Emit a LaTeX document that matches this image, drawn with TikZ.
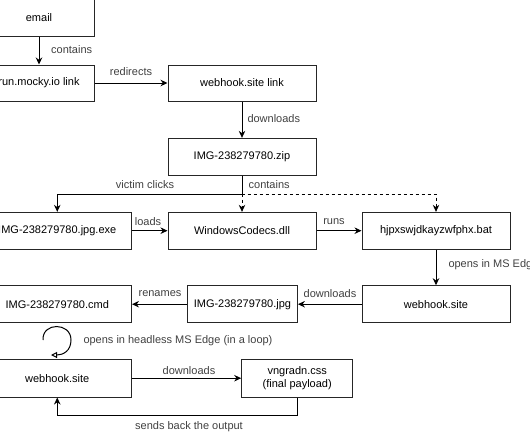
\documentclass[tikz,border=0pt]{standalone}
\usepackage{fontspec}
\setmainfont{Liberation Sans}
\usetikzlibrary{arrows.meta}
\begin{document}
\begin{tikzpicture}[x=1pt,y=-1pt,
  box/.style={draw=black!85,line width=1pt,fill=white,inner sep=0pt,align=center,font=\fontsize{11}{13}\selectfont},
  lbl/.style={inner sep=0pt,text=black!75,font=\fontsize{11}{13}\selectfont},
  conn/.style={draw=black,line width=1pt,-{Stealth[length=7pt,width=6.5pt]}},
  dconn/.style={conn,dash pattern=on 3pt off 3pt}]
\useasboundingbox (0,0) rectangle (530,442);
% boxes
\node[box,minimum width=110,minimum height=37] (email) at (39,17.5) {email};
\node[box,minimum width=110,minimum height=36] (mocky) at (39,83) {run.mocky.io link};
\node[box,minimum width=148,minimum height=36] (whl) at (242,83) {webhook.site link};
\node[box,minimum width=148,minimum height=36.7] (zip) at (242,156.7) {IMG-238279780.zip};
\node[box,minimum width=148.5,minimum height=36.7] (exe) at (57.25,230.7) {IMG-238279780.jpg.exe};
\node[box,minimum width=148,minimum height=36.7] (dll) at (242,230.7) {WindowsCodecs.dll};
\node[box,minimum width=148,minimum height=36.7] (bat) at (436,230.7) {hjpxswjdkayzwfphx.bat};
\node[box,minimum width=148.5,minimum height=37] (cmd) at (57.25,304.2) {IMG-238279780.cmd};
\node[box,minimum width=110,minimum height=37] (jpg) at (242.4,304.2) {IMG-238279780.jpg};
\node[box,minimum width=148,minimum height=37] (ws2) at (436,304.2) {webhook.site};
\node[box,minimum width=148.5,minimum height=37.7] (ws3) at (57.25,378.2) {webhook.site};
\node[box,minimum width=111,minimum height=37.7,align=center] (css) at (297.2,378.2) {vngradn.css\\(final payload)};
% connectors
\draw[conn] (email) -- (mocky);
\draw[conn] (mocky) -- (whl);
\draw[conn] (whl) -- (zip);
\draw[conn] (zip.south) |- (57.25,194) -- (exe.north);
\draw[dconn] (zip.south) -- (dll.north);
\draw[dconn] (zip.south) |- (436,194) -- (bat.north);
\draw[conn] (exe) -- (dll);
\draw[conn] (dll) -- (bat);
\draw[conn] (bat) -- (ws2);
\draw[conn] (ws2) -- (jpg);
\draw[conn] (jpg) -- (cmd);
\draw[conn] (ws3) -- (css);
\draw[conn] (css.south) |- (57.25,415) -- (ws3.south);
\coordinate (loopA) at (43,340);
\coordinate (loopB) at (51,355);
\draw[draw=black,line width=1pt,-{Triangle[open,length=6pt,width=6pt]}]
  (loopA) .. controls (42,322) and (71,322) .. (71,340) .. controls (71,351) and (63,355) .. (loopB);
% labels
\node[lbl,anchor=west] (l1) at (51,49.5) {contains};
\node[lbl] (l2) at (131,71.7) {redirects};
\node[lbl,anchor=west] (l3) at (247.3,119) {downloads};
\node[lbl] (l4) at (145,184.5) {victim clicks};
\node[lbl,anchor=west] (l5) at (248.5,184.5) {contains};
\node[lbl] (l6) at (148,222) {loads};
\node[lbl] (l7) at (334,221.7) {runs};
\node[lbl,anchor=west] (l8) at (448.3,265) {opens in MS Edge};
\node[lbl] (l9) at (330,293.5) {downloads};
\node[lbl] (l10) at (160,293.5) {renames};
\node[lbl,anchor=west] (l11) at (83.3,341) {opens in headless MS Edge (in a loop)};
\node[lbl] (l12) at (189,371) {downloads};
\node[lbl] (l13) at (189,427) {sends back the output};
\end{tikzpicture}
\end{document}
